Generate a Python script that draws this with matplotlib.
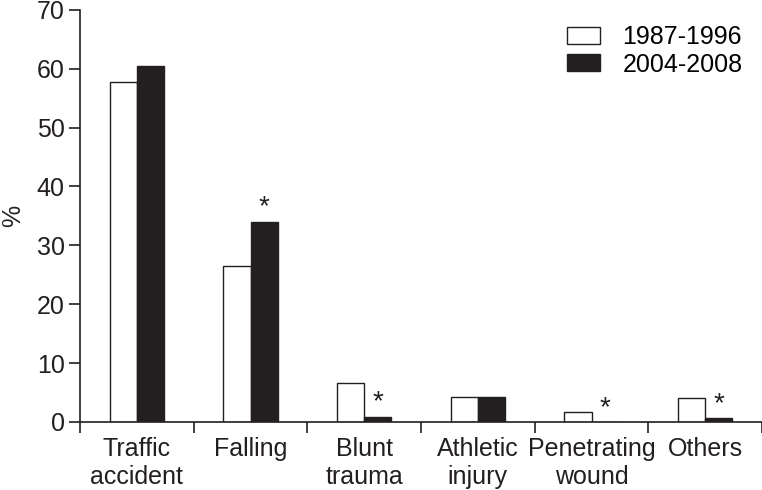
import numpy as np
import matplotlib
matplotlib.use("Agg")
import matplotlib.pyplot as plt

plt.rcParams['font.family'] = ['Liberation Sans', 'DejaVu Sans']

categories = ["Traffic\naccident", "Falling", "Blunt\ntrauma", "Athletic\ninjury", "Penetrating\nwound", "Others"]
period1 = [57.8, 26.4, 6.6, 4.2, 1.6, 4.0]
period2 = [60.4, 34.0, 0.9, 4.3, 0.0, 0.6]
significant = [False, True, True, False, True, True]

fs = 18
ink = "#231f20"

fig = plt.figure(figsize=(7.62, 4.9), dpi=100)
ax = fig.add_axes([0.105, 0.139, 0.895, 0.841])

x = np.arange(len(categories))
w = 0.24
ax.bar(x - w / 2, period1, w, color="white", edgecolor=ink, linewidth=1.0, label="1987-1996")
ax.bar(x + w / 2, period2, w, color=ink, edgecolor=ink, linewidth=1.0, label="2004-2008")

for i, s in enumerate(significant):
    if s:
        ax.text(x[i] + w / 2, period2[i] + 0.2, "*", ha="center", va="bottom", fontsize=20, color=ink)

ax.set_xlim(-0.5, len(categories) - 0.5)
ax.set_ylim(0, 70)
ax.set_yticks(range(0, 71, 10))
ax.set_xticks(x)
ax.set_xticklabels(categories, linespacing=1.2)
ax.set_xticks(np.arange(-0.5, len(categories), 1), minor=True)
ax.tick_params(axis="x", which="major", length=0, pad=11, labelsize=fs, colors=ink)
ax.tick_params(axis="x", which="minor", length=8, width=1.2, color=ink)
ax.tick_params(axis="y", length=8, width=1.2, labelsize=fs, colors=ink, pad=3)
ax.set_ylabel("%", fontsize=fs, color=ink, labelpad=8)

for side in ["top", "right"]:
    ax.spines[side].set_visible(False)
for side in ["left", "bottom"]:
    ax.spines[side].set_linewidth(1.2)
    ax.spines[side].set_color(ink)

ax.legend(loc="upper right", bbox_to_anchor=(760 / 762, 482 / 490), bbox_transform=fig.transFigure,
          borderaxespad=0.3, frameon=False, fontsize=fs,
          handlelength=1.3, handleheight=0.65, handletextpad=0.9, labelspacing=0.12)

plt.savefig("out.png", dpi=100)
